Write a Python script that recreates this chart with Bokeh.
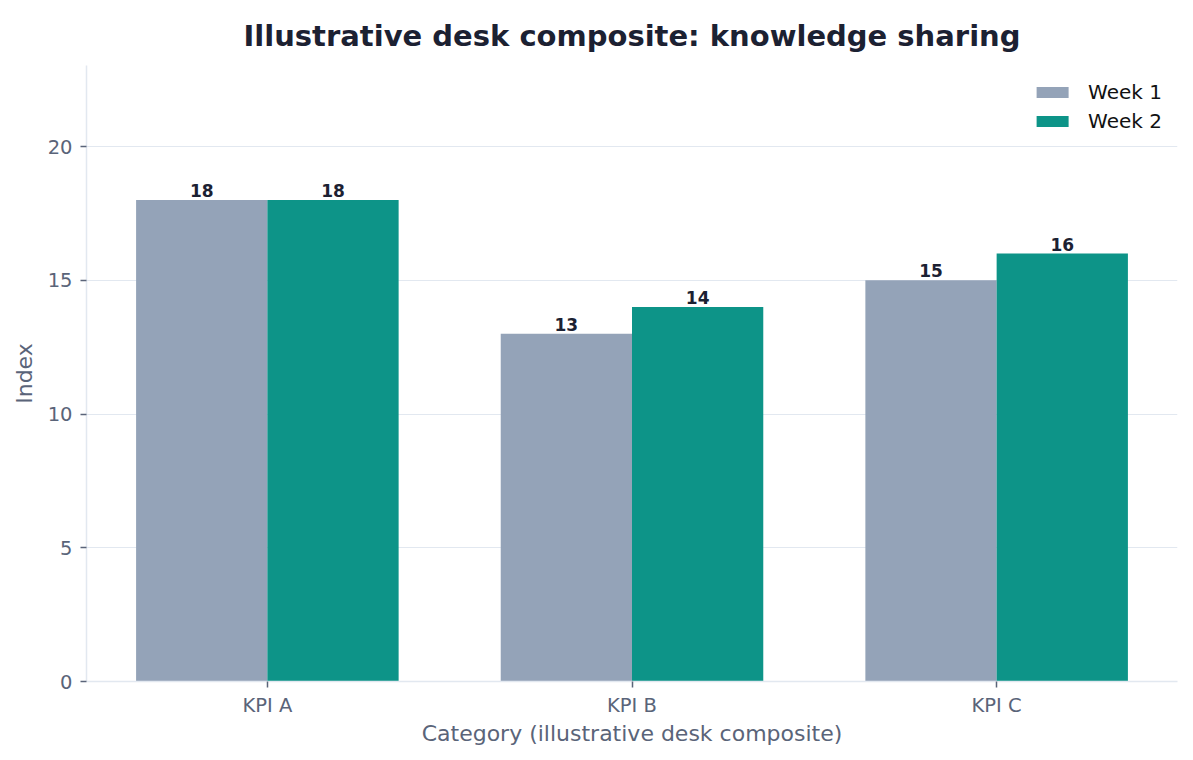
from bokeh.plotting import figure
from bokeh.models import ColumnDataSource, FixedTicker, Legend, LegendItem
from bokeh.core.properties import value
from bokeh.embed import file_html
from bokeh.resources import INLINE

categories = ["KPI A", "KPI B", "KPI C"]
week1 = [18, 13, 15]
week2 = [18, 14, 16]
series_names = ["Week 1", "Week 2"]
colors = ["#94a3b8", "#0d9488"]

FONT = "DejaVu Sans"
TICK_COLOR = "#5a6479"
SPINE_COLOR = "#e2e8f0"
BAR_W = 0.36

p = figure(width=1185, height=752, output_backend="svg", toolbar_location=None,
           x_range=(-0.496, 2.496), y_range=(0, 23.03),
           min_border_left=86, min_border_right=8, min_border_top=65, min_border_bottom=71)

p.title.text = "Illustrative desk composite: knowledge sharing"
p.title.align = "center"
p.title.text_font = FONT
p.title.text_font_size = "29px"
p.title.text_font_style = "bold"
p.title.text_color = "#1c2132"
p.title.standoff = 25

p.outline_line_color = None
p.background_fill_color = "white"
p.border_fill_color = "white"

idx = list(range(len(categories)))
items = []
for k, (vals, name, color) in enumerate(zip([week1, week2], series_names, colors)):
    off = -BAR_W / 2 if k == 0 else BAR_W / 2
    src = ColumnDataSource(dict(x=[i + off for i in idx], top=vals,
                                lab=[str(v) for v in vals]))
    r = p.vbar(x="x", top="top", width=BAR_W, source=src, fill_color=color,
               line_color=None)
    p.text(x="x", y="top", text="lab", source=src, text_align="center",
           text_baseline="bottom", y_offset=-3, text_font=value(FONT),
           text_font_size="17px", text_font_style="bold", text_color="#1c2132")
    items.append(LegendItem(label=name, renderers=[r]))

legend = Legend(items=items, location="top_right")
legend.border_line_color = None
legend.background_fill_alpha = 0
legend.glyph_width = 40
legend.glyph_height = 14
legend.label_height = 20
legend.label_standoff = 16
legend.label_text_font = FONT
legend.label_text_font_size = "20px"
legend.label_text_color = "#111111"
legend.spacing = 5
legend.margin = 15
legend.padding = 5
p.add_layout(legend)

p.xaxis.ticker = FixedTicker(ticks=idx)
p.xaxis.major_label_overrides = {i: c for i, c in zip(idx, categories)}
p.yaxis.ticker = FixedTicker(ticks=[0, 5, 10, 15, 20])

for ax in (p.xaxis, p.yaxis):
    ax.axis_line_color = SPINE_COLOR
    ax.axis_line_width = 1.5
    ax.major_tick_line_color = TICK_COLOR
    ax.major_tick_line_width = 1.5
    ax.major_tick_out = 6
    ax.major_tick_in = 0
    ax.minor_tick_line_color = None
    ax.major_label_text_font = FONT
    ax.major_label_text_font_size = "19.5px"
    ax.major_label_text_color = TICK_COLOR
    ax.major_label_standoff = 6
    ax.axis_label_text_font = FONT
    ax.axis_label_text_font_size = "22px"
    ax.axis_label_text_font_style = "normal"
    ax.axis_label_text_color = TICK_COLOR
    ax.axis_label_standoff = 1

p.yaxis.major_label_standoff = 8
p.yaxis.axis_label_standoff = 8

p.xaxis.axis_label = "Category (illustrative desk composite)"
p.yaxis.axis_label = "Index"

p.xgrid.grid_line_color = None
p.ygrid.grid_line_color = SPINE_COLOR
p.ygrid.grid_line_width = 1.2

open("out.html", "w").write(file_html(p, INLINE))
